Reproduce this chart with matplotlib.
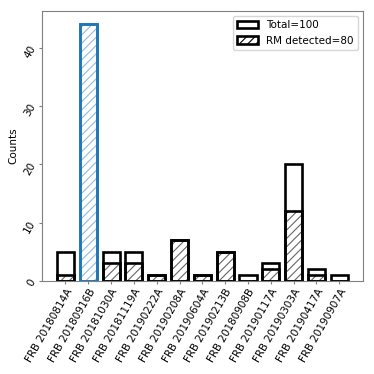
import matplotlib
matplotlib.use("Agg")
import matplotlib.pyplot as plt
import numpy as np
from matplotlib.patches import Patch

names = ["FRB 20180814A", "FRB 20180916B", "FRB 20181030A", "FRB 20181119A",
         "FRB 20190222A", "FRB 20190208A", "FRB 20190604A", "FRB 20190213B",
         "FRB 20180908B", "FRB 20190117A", "FRB 20190303A", "FRB 20190417A",
         "FRB 20190907A"]
total = [5, 44, 5, 5, 1, 7, 1, 5, 1, 3, 20, 2, 1]
detected = [1, 44, 3, 3, 1, 7, 1, 5, 0, 2, 12, 1, 0]

plt.rcParams['hatch.linewidth'] = 0.8
fig = plt.figure(figsize=(3.74, 3.74), dpi=100)
ax = fig.add_axes([0.1115, 0.2487, 0.859, 0.722])
x = np.arange(len(names))
W = 0.75
LW = 1.9
edge = ['C0' if n == "FRB 20180916B" else 'black' for n in names]
hcol = ['#8fbbe0' if n == "FRB 20180916B" else '0.4' for n in names]
for i in range(len(names)):
    plt.rcParams['hatch.color'] = hcol[i]
    ax.bar(x[i], total[i], width=W, facecolor='white', edgecolor='none', linewidth=0)
    ax.bar(x[i], detected[i], width=W, facecolor='none', edgecolor=hcol[i],
           hatch='////', linewidth=0)
for i in range(len(names)):
    ax.bar(x[i], detected[i], width=W, facecolor='none', edgecolor=edge[i], linewidth=LW)
    ax.bar(x[i], total[i], width=W, facecolor='none', edgecolor=edge[i], linewidth=LW)

plt.rcParams['hatch.color'] = '0.4'
h1 = Patch(facecolor='white', edgecolor='black', linewidth=LW)
h2 = Patch(facecolor='white', edgecolor='black', linewidth=LW, hatch='////')
ax.legend([h1, h2], ['Total=%d' % sum(total), 'RM detected=%d' % sum(detected)],
          loc='upper right', fontsize=7.5)

ax.set_xticks(x)
ax.set_xticklabels(names, rotation=60, ha='right', fontsize=7.5, rotation_mode='anchor')
ax.tick_params(axis='both', length=2, width=0.8, color='0.5', pad=2.5)
ax.tick_params(axis='y', labelrotation=60, labelsize=7.5, pad=1)
ax.set_ylabel('Counts', fontsize=7.5, labelpad=3)
ax.set_xlim(-1.04, 13.04)
ax.set_ylim(0, 46.3)
for s in ax.spines.values():
    s.set_color('0.5')
fig.savefig('out.png', dpi=100)
